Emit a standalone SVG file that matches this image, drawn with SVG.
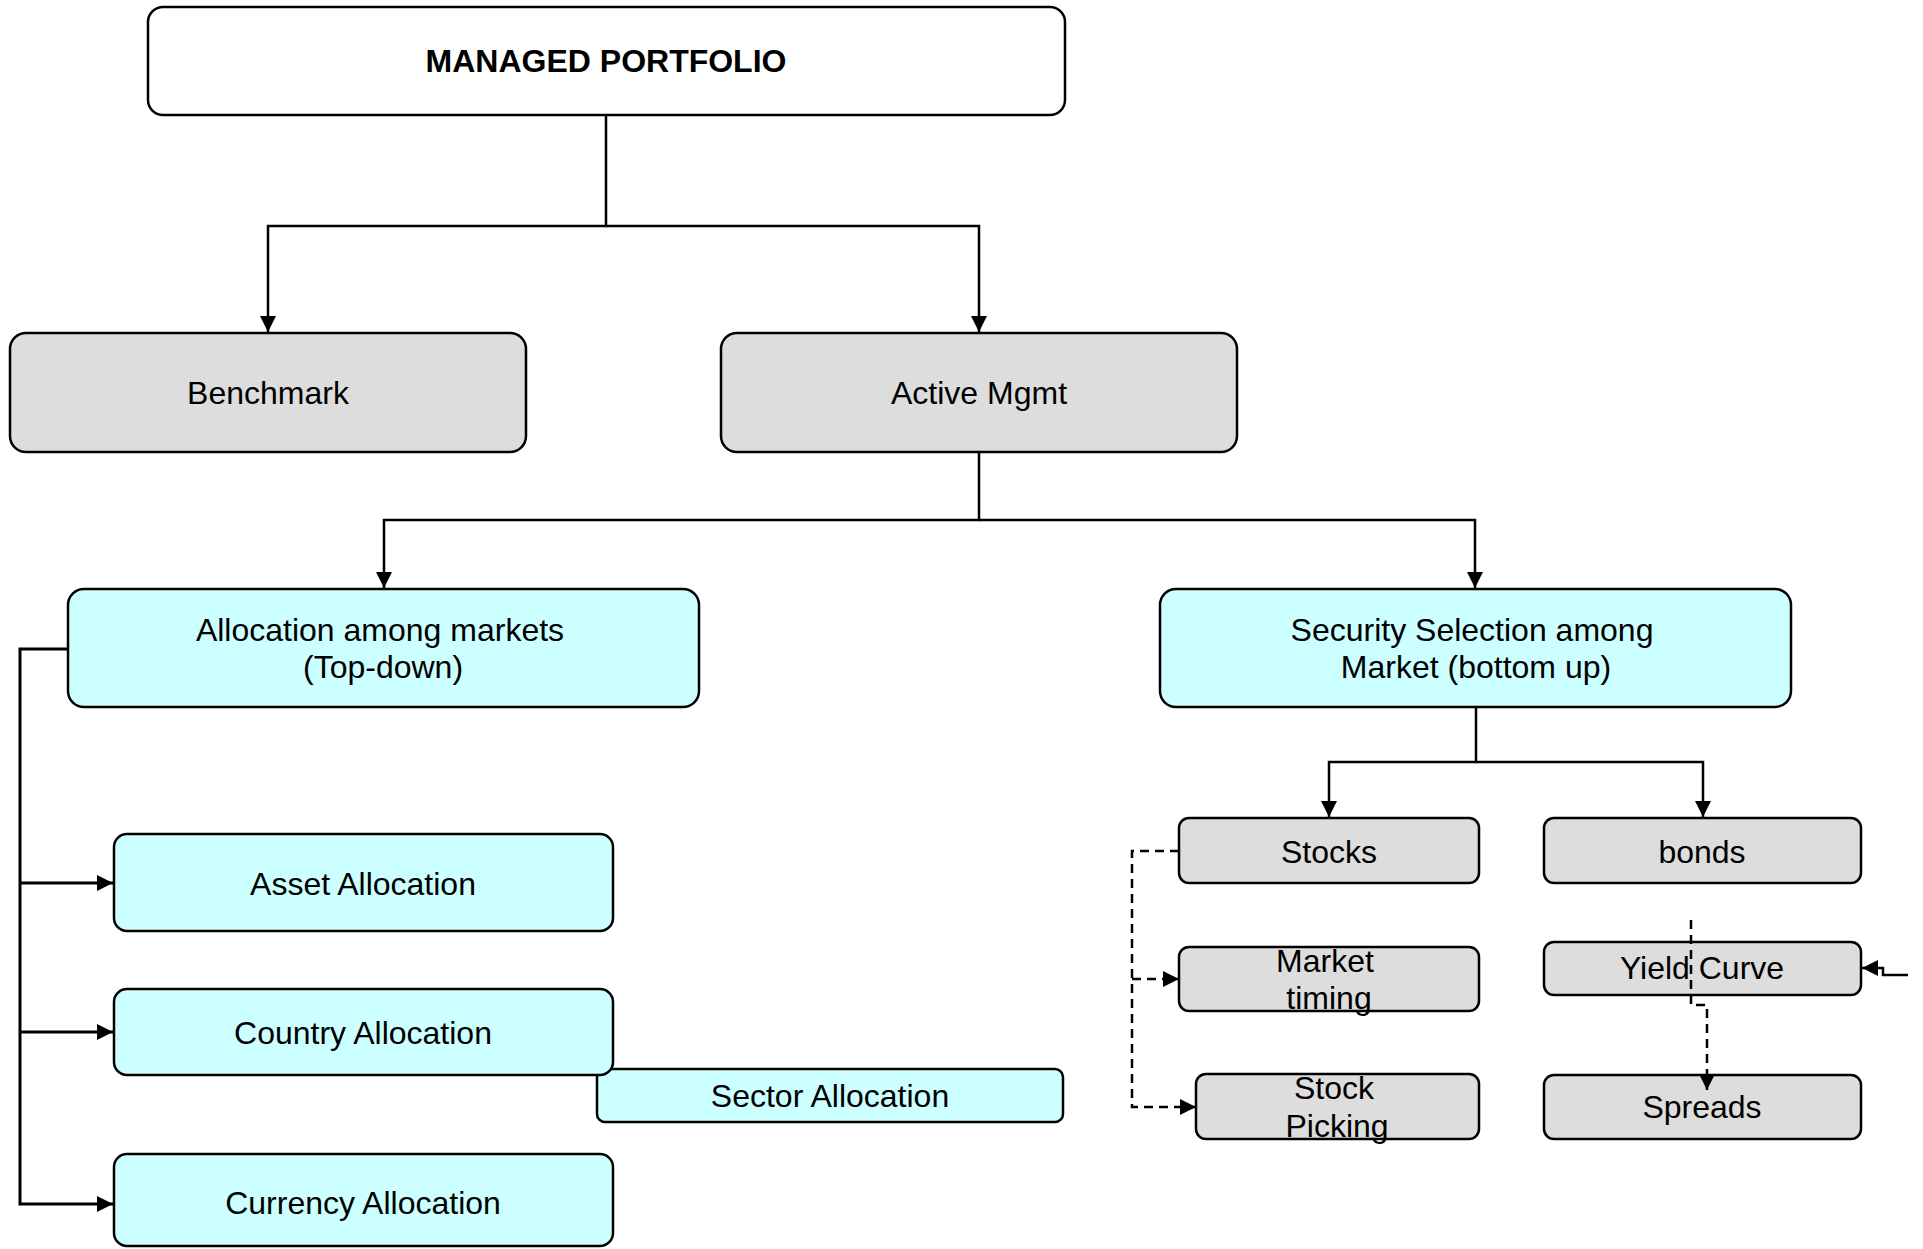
<svg xmlns="http://www.w3.org/2000/svg" width="1923" height="1249" viewBox="0 0 1923 1249">
<style>
  .box { stroke: #000; stroke-width: 2.5; }
  .gray { fill: #dddddd; }
  .cyan { fill: #ccffff; }
  .white { fill: #ffffff; }
  text { font-family: "Liberation Sans", Arial, sans-serif; font-size: 32px; fill: #000; text-anchor: middle; }
  .bold { font-weight: bold; }
  .conn { fill: none; stroke: #000; stroke-width: 2.5; }
  .thick { stroke-width: 3; }
  .dash { stroke-dasharray: 9 6; }
</style>
<defs>
  <marker id="arr" markerUnits="userSpaceOnUse" markerWidth="16" markerHeight="16" viewBox="0 0 15 15" refX="15" refY="7.5" orient="auto">
    <path d="M0,0 L15,7.5 L0,15 z" fill="#000"/>
  </marker>
</defs>
<rect width="1923" height="1249" fill="#ffffff"/>

<g id="connectors">
  <path class="conn" d="M606,115 V226 H268 V332" marker-end="url(#arr)"/>
  <path class="conn" d="M606,226 H979 V332" marker-end="url(#arr)"/>
  <path class="conn" d="M979,452 V520 H384 V588" marker-end="url(#arr)"/>
  <path class="conn" d="M979,520 H1475 V588" marker-end="url(#arr)"/>
  <path class="conn" d="M1476,707 V762 H1329 V817" marker-end="url(#arr)"/>
  <path class="conn" d="M1476,762 H1703 V817" marker-end="url(#arr)"/>
  <path class="conn thick" d="M68,649 H20 V1204 H113" marker-end="url(#arr)"/>
  <path class="conn thick" d="M20,883 H113" marker-end="url(#arr)"/>
  <path class="conn thick" d="M20,1032 H113" marker-end="url(#arr)"/>
</g>

<g id="n-top"><rect class="box white" x="148" y="7" width="917" height="108" rx="15"/><text class="bold" x="606" y="72">MANAGED PORTFOLIO</text></g>
<g id="n-benchmark"><rect class="box gray" x="10" y="333" width="516" height="119" rx="16"/><text x="268" y="404">Benchmark</text></g>
<g id="n-active"><rect class="box gray" x="721" y="333" width="516" height="119" rx="16"/><text x="979" y="404">Active Mgmt</text></g>
<g id="n-alloc"><rect class="box cyan" x="68" y="589" width="631" height="118" rx="16"/><text x="380" y="641">Allocation among markets</text><text x="383" y="678">(Top-down)</text></g>
<g id="n-security"><rect class="box cyan" x="1160" y="589" width="631" height="118" rx="16"/><text x="1472" y="641">Security Selection among</text><text x="1476" y="678">Market (bottom up)</text></g>
<g id="n-asset"><rect class="box cyan" x="114" y="834" width="499" height="97" rx="13"/><text x="363" y="895">Asset Allocation</text></g>
<g id="n-sector"><rect class="box cyan" x="597" y="1069" width="466" height="53" rx="8"/><text x="830" y="1107">Sector Allocation</text></g>
<g id="n-country"><rect class="box cyan" x="114" y="989" width="499" height="86" rx="13"/><text x="363" y="1044">Country Allocation</text></g>
<g id="n-currency"><rect class="box cyan" x="114" y="1154" width="499" height="92" rx="13"/><text x="363" y="1214">Currency Allocation</text></g>
<g id="n-stocks"><rect class="box gray" x="1179" y="818" width="300" height="65" rx="10"/><text x="1329" y="863">Stocks</text></g>
<g id="n-market"><rect class="box gray" x="1179" y="947" width="300" height="64" rx="10"/><text x="1325" y="972">Market</text><text x="1329" y="1009">timing</text></g>
<g id="n-picking"><rect class="box gray" x="1196" y="1074" width="283" height="65" rx="10"/><text x="1334" y="1099">Stock</text><text x="1337" y="1137">Picking</text></g>
<g id="n-bonds"><rect class="box gray" x="1544" y="818" width="317" height="65" rx="10"/><text x="1702" y="863">bonds</text></g>
<g id="n-yield"><rect class="box gray" x="1544" y="942" width="317" height="53" rx="10"/><text x="1702" y="979">Yield Curve</text></g>
<g id="n-spreads"><rect class="box gray" x="1544" y="1075" width="317" height="64" rx="10"/><text x="1702" y="1118">Spreads</text></g>

<g id="connectors-over">
  <path class="conn dash" d="M1179,851 H1132 V1107 H1196" marker-end="url(#arr)"/>
  <path class="conn dash" d="M1132,979 H1179" marker-end="url(#arr)"/>
  <path class="conn dash" d="M1691,920 V1005 H1707 V1090" marker-end="url(#arr)"/>
  <path class="conn" d="M1908,975 H1883 V968 H1862" marker-end="url(#arr)"/>
</g>
</svg>
